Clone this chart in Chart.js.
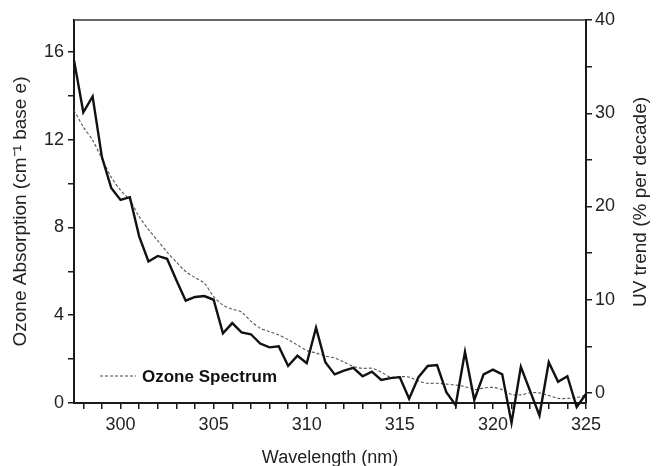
<!DOCTYPE html>
<html>
<head>
<meta charset="utf-8">
<script src="https://cdn.jsdelivr.net/npm/chart.js@4.4.0/dist/chart.umd.min.js"></script>
<style>
  html, body { margin: 0; padding: 0; background: #fff; }
</style>
</head>
<body>
<canvas id="uvChart" width="656" height="466"></canvas>
<script>
const wavelengths = [
  297.5, 298, 298.5, 299, 299.5, 300, 300.5, 301, 301.5, 302, 302.5, 303, 303.5, 304,
  304.5, 305, 305.5, 306, 306.5, 307, 307.5, 308, 308.5, 309, 309.5, 310, 310.5, 311,
  311.5, 312, 312.5, 313, 313.5, 314, 314.5, 315, 315.5, 316, 316.5, 317, 317.5, 318,
  318.5, 319, 319.5, 320, 320.5, 321, 321.5, 322, 322.5, 323, 323.5, 324, 324.5, 325
];
// UV trend, % per decade (right axis)
const uvTrend = [
  35.7, 30.1, 31.8, 25.3, 22.0, 20.7, 21.0, 16.8, 14.1, 14.7, 14.4, 12.1, 9.9, 10.3,
  10.4, 10.0, 6.4, 7.5, 6.5, 6.3, 5.3, 4.9, 5.0, 2.9, 4.0, 3.2, 7.0, 3.3,
  2.0, 2.4, 2.7, 1.8, 2.3, 1.4, 1.6, 1.7, -0.6, 1.7, 2.9, 3.0, 0.1, -1.3,
  4.4, -0.75, 2.0, 2.5, 2.0, -3.2, 2.8, 0.2, -2.4, 3.3, 1.2, 1.8, -1.5, -0.1
];
// ozone absorption, cm-1 base e (left axis)
const ozoneSpectrum = [
  13.34, 12.58, 11.97, 11.13, 10.29, 9.69, 9.24, 8.49, 7.90, 7.40, 6.87, 6.42, 5.99, 5.71,
  5.46, 4.85, 4.46, 4.28, 4.14, 3.73, 3.41, 3.25, 3.10, 2.89, 2.64, 2.39, 2.28, 2.14,
  2.05, 1.87, 1.66, 1.58, 1.58, 1.41, 1.18, 1.20, 1.18, 1.00, 0.90, 0.90, 0.86, 0.82,
  0.75, 0.61, 0.68, 0.71, 0.61, 0.39, 0.37, 0.47, 0.46, 0.34, 0.21, 0.21, 0.25, 0.36
];
const xTicks = [300, 305, 310, 315, 320, 325];
const leftTicks = [0, 4, 8, 12, 16];
const rightTicks = [0, 10, 20, 30, 40];

const FONT = '"Liberation Sans", Arial, Helvetica, sans-serif';
const INK = '#1a1a1a';

// tick marks every `step`, labels only on the major values
function ticksFrom(min, max, step) {
  const out = [];
  for (let v = Math.ceil(min / step) * step; v <= max + 1e-9; v += step) out.push({ value: v });
  return out;
}

function axis(extra) {
  return Object.assign({
    type: 'linear',
    grid: { drawOnChartArea: false, drawTicks: true, tickLength: 6, color: INK, lineWidth: 1.5 },
    border: { color: INK, width: 2 }
  }, extra);
}

const extras = {
  id: 'extras',
  afterDraw(chart) {
    const { ctx, chartArea: a } = chart;
    ctx.save();
    ctx.strokeStyle = '#333';
    ctx.lineWidth = 1.5;
    ctx.beginPath();
    ctx.moveTo(a.left, a.top);
    ctx.lineTo(a.right, a.top);
    ctx.stroke();

    // legend
    ctx.setLineDash([3, 2]);
    ctx.lineWidth = 1;
    ctx.strokeStyle = '#444';
    ctx.beginPath();
    ctx.moveTo(100, 376);
    ctx.lineTo(136, 376);
    ctx.stroke();
    ctx.setLineDash([]);
    ctx.fillStyle = '#111';
    ctx.font = 'bold 17px ' + FONT;
    ctx.textAlign = 'left';
    ctx.textBaseline = 'middle';
    ctx.fillText('Ozone Spectrum', 142, 377);

    // right title reads bottom to top
    ctx.translate(641, 202);
    ctx.rotate(-Math.PI / 2);
    ctx.font = '19px ' + FONT;
    ctx.textAlign = 'center';
    ctx.fillStyle = '#222';
    ctx.fillText('UV trend (% per decade)', 0, 0);
    ctx.restore();
  }
};

new Chart(document.getElementById('uvChart'), {
  type: 'line',
  data: {
    datasets: [
      {
        label: 'UV trend',
        data: wavelengths.map((w, i) => ({ x: w, y: uvTrend[i] })),
        yAxisID: 'yR',
        borderColor: '#111',
        borderWidth: 2.4,
        pointRadius: 0,
        tension: 0,
        clip: false
      },
      {
        label: 'Ozone Spectrum',
        data: wavelengths.map((w, i) => ({ x: w, y: ozoneSpectrum[i] })),
        yAxisID: 'yL',
        borderColor: '#555',
        borderWidth: 1.1,
        borderDash: [3, 2],
        pointRadius: 0,
        tension: 0.3
      }
    ]
  },
  options: {
    responsive: false,
    devicePixelRatio: 1,
    animation: false,
    layout: { padding: { top: 20, left: 0, right: 0, bottom: 0 } },
    plugins: { legend: { display: false }, tooltip: { enabled: false } },
    scales: {
      x: axis({
        position: 'bottom',
        min: 297.5,
        max: 325,
        afterBuildTicks: s => { s.ticks = ticksFrom(298, 325, 1); },
        afterFit: s => { s.height = 63; },
        ticks: {
          color: '#222', font: { family: FONT, size: 18 }, padding: 5, maxRotation: 0, autoSkip: false,
          callback: v => xTicks.includes(v) ? String(v) : ''
        },
        title: {
          display: true, text: 'Wavelength (nm)', color: '#222',
          font: { family: FONT, size: 18, lineHeight: 1 }, padding: { top: 0, bottom: -1 }
        }
      }),
      yL: axis({
        position: 'left',
        min: 0,
        max: 17.45,
        afterBuildTicks: s => { s.ticks = ticksFrom(0, 16, 2); },
        afterFit: s => { s.width = 74; },
        ticks: {
          color: '#222', font: { family: FONT, size: 18 }, padding: 4, autoSkip: false,
          callback: v => leftTicks.includes(v) ? String(v) : ''
        },
        title: {
          display: true, text: 'Ozone Absorption (cm\u207B\u00B9 base e)', color: '#222',
          font: { family: FONT, size: 19, lineHeight: 1 }, padding: { top: 11, bottom: 0 }
        }
      }),
      yR: axis({
        position: 'right',
        min: -1.07,
        max: 40,
        afterBuildTicks: s => { s.ticks = ticksFrom(0, 40, 5); },
        afterFit: s => { s.width = 70; },
        ticks: {
          color: '#222', font: { family: FONT, size: 18 }, padding: 3, autoSkip: false,
          callback: v => rightTicks.includes(v) ? String(v) : ''
        }
      })
    }
  },
  plugins: [extras]
});
</script>
</body>
</html>
